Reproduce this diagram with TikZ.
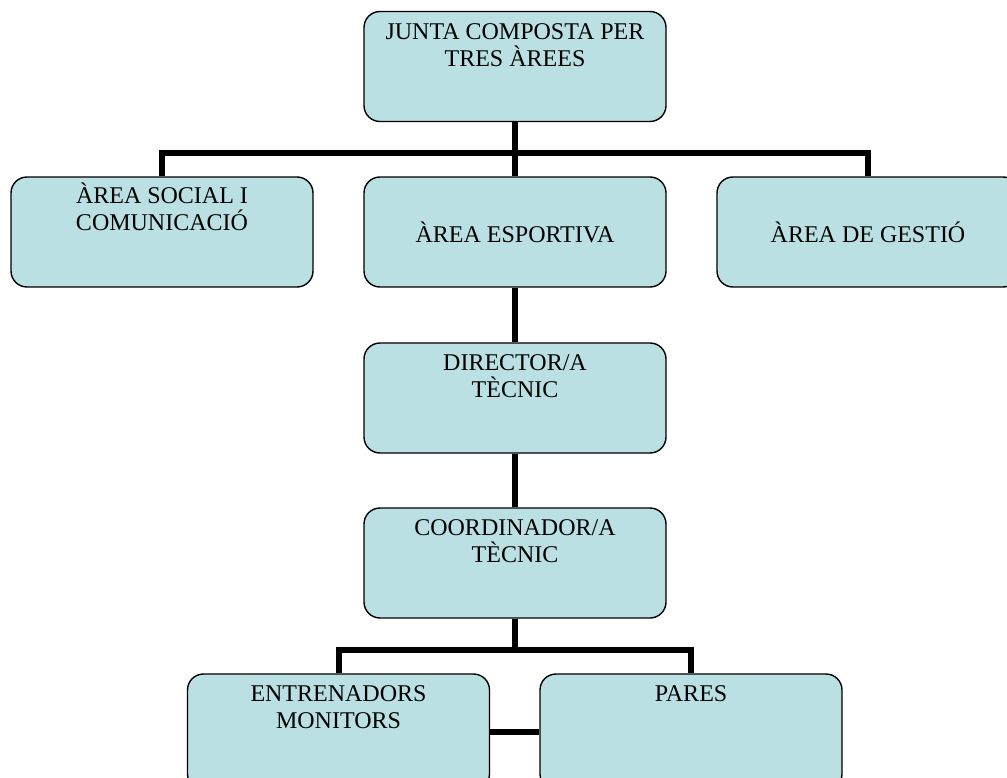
\documentclass[tikz,border=0pt]{standalone}
\usepackage{fontspec}
\setmainfont{Liberation Serif}
\definecolor{boxfill}{RGB}{186,224,227}
\tikzset{
  box/.style={draw, line width=1.4pt, rounded corners=16pt, fill=boxfill,
    minimum width=302pt, minimum height=110pt, inner sep=0pt},
  lbl/.style={anchor=base, align=center, inner sep=0pt,
    font=\fontsize{24}{27}\selectfont},
  link/.style={line width=6pt}
}
\begin{document}
\begin{tikzpicture}[x=1pt,y=-1pt]
\useasboundingbox (0,0) rectangle (1007,778);
\clip (0,0) rectangle (1007,778);
% boxes
\node[box] (junta) at (515,66.5) {};
\node[box] (social) at (162,232) {};
\node[box] (esportiva) at (515,232) {};
\node[box] (gestio) at (868,232) {};
\node[box] (director) at (515,398) {};
\node[box] (coord) at (515,563) {};
\node[box, minimum height=116pt] (entren) at (338.5,732) {};
\node[box, minimum height=116pt] (pares) at (691,732) {};
% texts (base = last line)
\node[lbl] (junta-t) at ([yshift=-56pt]junta.north) {JUNTA COMPOSTA PER\\TRES ÀREES};
\node[lbl] (social-t) at ([yshift=-54pt]social.north) {ÀREA SOCIAL I\\COMUNICACIÓ};
\node[lbl] (esportiva-t) at ([yshift=-66pt]esportiva.north) {ÀREA ESPORTIVA};
\node[lbl] (gestio-t) at ([yshift=-66pt]gestio.north) {ÀREA DE GESTIÓ};
\node[lbl] (director-t) at ([yshift=-55pt]director.north) {DIRECTOR/A\\TÈCNIC};
\node[lbl] (coord-t) at ([yshift=-55pt]coord.north) {COORDINADOR/A\\TÈCNIC};
\node[lbl] (entren-t) at ([yshift=-55pt]entren.north) {ENTRENADORS\\MONITORS};
\node[lbl] (pares-t) at ([yshift=-28pt]pares.north) {PARES};
% connectors
\coordinate (bar1) at (515,153);
\coordinate (bar2) at (515,650);
\draw[link] (junta.south) -- (esportiva.north);
\draw[link] (social.north) |- (bar1) -| (gestio.north);
\draw[link] (esportiva.south) -- (director.north);
\draw[link] (director.south) -- (coord.north);
\draw[link] (coord.south) -- (bar2);
\draw[link] (entren.north) |- (bar2) -| (pares.north);
\draw[link] (entren.east) -- (pares.west);
\end{tikzpicture}
\end{document}
